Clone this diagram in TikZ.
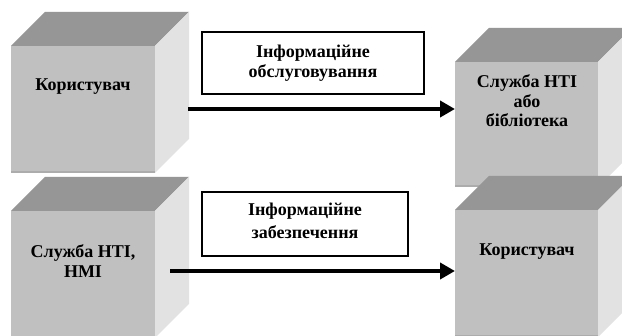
\documentclass[tikz,border=0pt]{standalone}
\usepackage{fontspec}
\setmainfont{Liberation Serif}
\usetikzlibrary{arrows.meta}
\definecolor{cfront}{RGB}{192,192,192}
\definecolor{cfrontedge}{RGB}{172,172,172}
\definecolor{ctop}{RGB}{150,150,150}
\definecolor{cside}{RGB}{226,226,226}
\newcommand\mycube[5]{%
  \fill[ctop] (#2,#3) -- ++(34,-34) -- ++(#4,0) -- ++(-34,34) -- cycle;
  \fill[cside] (#2+#4,#3) -- ++(34,-34) -- ++(0,#5) -- ++(-34,34) -- cycle;
  \node[frontface, minimum width=#4pt, minimum height=#5pt, anchor=north west] (#1) at (#2,#3) {};
  \draw[cfrontedge, line width=1.5pt] (#1.south west) ++(0,-0.75) -- ++(#4,0);
}
\begin{document}
\begin{tikzpicture}[x=1pt,y=-1pt,
  frontface/.style={fill=cfront, inner sep=0pt, outer sep=0pt},
  lbl/.style={font=\bfseries\fontsize{18}{19.5}\selectfont, align=center, inner sep=0pt},
  infobox/.style={draw=black, line width=1.2pt, fill=white, align=center, inner sep=0pt},
  arr/.style={-{Triangle[length=15pt,width=16pt]}, line cap=butt}
]
\useasboundingbox (0,0) rectangle (622,336);
\fill[white] (0,0) rectangle (622,336);
\begin{scope}
\clip (0,0) rectangle (622,336);
\mycube{c1}{11}{46}{144}{127}
\mycube{c2}{455}{62}{143}{125}
\mycube{c3}{11}{211}{144}{127}
\mycube{c4}{455}{210}{143}{127}
\end{scope}
\node[lbl] (t1) at (83,87) {Користувач};
\node[lbl] (t2) at (527,101) {Служба НТІ\\або\\бібліотека};
\node[lbl] (t3) at (83,261) {Служба НТІ,\\НМІ};
\node[lbl] (t4) at (527,252) {Користувач};
\node[infobox, minimum width=222pt, minimum height=62pt, font=\bfseries\fontsize{18}{20}\selectfont] (b1) at (313,63) {Інформаційне\\обслуговування};
\node[infobox, minimum width=206pt, minimum height=64pt, font=\bfseries\fontsize{18}{22.5}\selectfont] (b2) at (305,224) {};
\node[lbl, font=\bfseries\fontsize{18}{22.5}\selectfont] (b2t) at (305,221) {Інформаційне\\забезпечення};
\coordinate (s1) at (188,109);
\coordinate (s2) at (170,271);
\draw[arr, line width=4.3pt] (s1) -- (s1 -| c2.west);
\draw[arr, line width=4.8pt] (s2) -- (s2 -| c4.west);
\end{tikzpicture}
\end{document}
